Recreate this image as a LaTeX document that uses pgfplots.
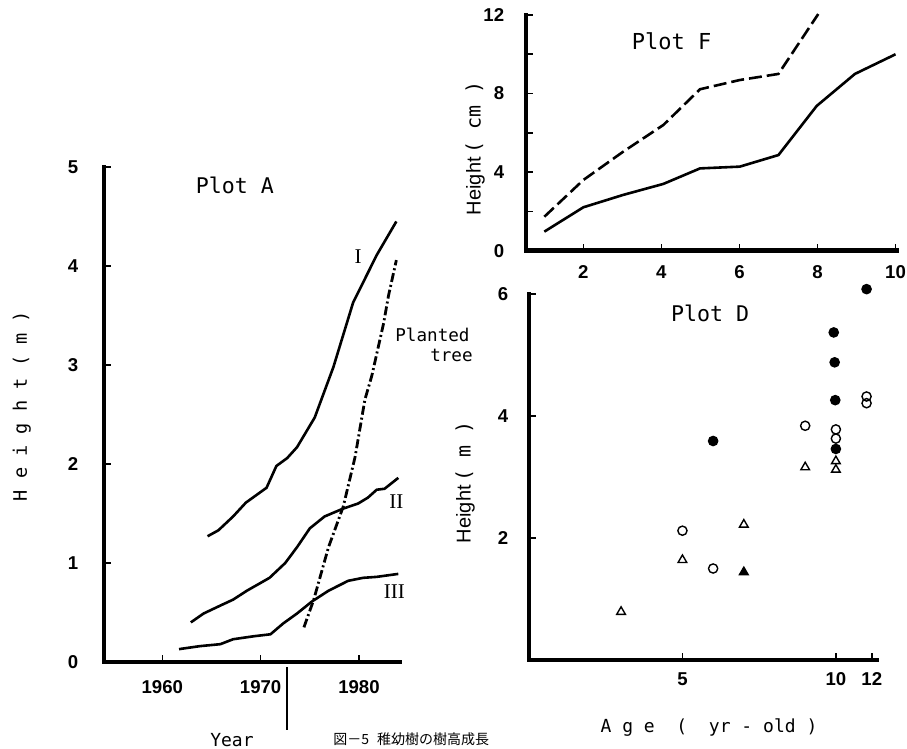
\documentclass[border=0pt]{standalone}
\usepackage{fontspec}
\setmainfont{Liberation Sans}
\newfontfamily\mono{DejaVu Sans Mono}
\newfontfamily\romn{Liberation Serif}
\newfontfamily\cjk{Noto Sans CJK JP}
\usepackage{pgfplots}
\pgfplotsset{compat=1.18}

% 1 px of the reference = 0.5pt
\pgfplotsset{
  panel/.style={
    scale only axis,
    anchor=south west,
    axis lines=left,
    axis line style={-, line width=2.2pt, line cap=rect},
    tick align=inside,
    major tick length=3.5pt,
    every tick/.style={black, line width=0.8pt},
    tick label style={font=\fontsize{9.3}{11}\selectfont\bfseries},
    /pgf/number format/assume math mode=true,
    /pgf/number format/1000 sep={},
    clip=false,
  },
  curve/.style={black, line width=1.3pt, line join=round, no markers},
  dot/.style={black, only marks, mark size=2.3pt, mark options={line width=0.7pt}},
}
\newcommand{\monofs}[1]{\mono\fontsize{#1}{#1}\selectfont}

\begin{document}
\begin{tikzpicture}
\useasboundingbox (0,0) rectangle (453.5pt,-374.5pt);

% ---------------- Plot A ----------------
\begin{axis}[panel, at={(52pt,-331pt)}, width=148pt, height=247.5pt,
  xmin=1954.07, xmax=1984.17, ymin=0, ymax=5,
  xtick={1960,1970,1980}, ytick={0,1,2,3,4,5},
  yticklabel style={xshift=-9.4pt}, xticklabel style={yshift=-5.9pt}]
% I
\addplot[curve] coordinates {(1964.6,1.27) (1965.7,1.33) (1967.2,1.47) (1968.5,1.61)
  (1970.6,1.76) (1971.6,1.98) (1972.7,2.06) (1973.7,2.17) (1975.5,2.47) (1977.4,2.98)
  (1979.4,3.63) (1981.8,4.11) (1983.8,4.45)};
% II
\addplot[curve] coordinates {(1962.9,0.40) (1964.2,0.49) (1965.9,0.57) (1967.2,0.63)
  (1968.6,0.72) (1970.9,0.85) (1972.5,1.00) (1973.7,1.16) (1975.0,1.35) (1976.5,1.47)
  (1978.4,1.55) (1979.9,1.60) (1980.9,1.66) (1981.8,1.74) (1982.6,1.75) (1984.0,1.86)};
% III
\addplot[curve] coordinates {(1961.7,0.13) (1963.8,0.16) (1965.9,0.18) (1967.2,0.23)
  (1969.3,0.26) (1971.0,0.28) (1972.3,0.39) (1973.7,0.49) (1975.2,0.61) (1976.9,0.72)
  (1978.9,0.82) (1980.4,0.85) (1981.8,0.86) (1984.0,0.89)};
% planted tree
\addplot[curve, line width=1.4pt, dash pattern=on 4.5pt off 1.5pt on 1pt off 1.5pt]
  coordinates {(1974.4,0.35) (1975.4,0.63) (1976.9,1.16) (1978.4,1.57) (1979.6,2.07)
  (1980.6,2.65) (1981.3,2.89) (1982.5,3.42) (1983.0,3.70) (1983.8,4.06)};
\node[font=\monofs{10.8}] at (axis cs:1967.39,4.81) {Plot A};
\node[font=\romn\fontsize{10.5}{12}\selectfont] at (axis cs:1979.9,4.09) {I};
\node[font=\romn\fontsize{10.5}{12}\selectfont] at (axis cs:1983.8,1.62) {II};
\node[font=\romn\fontsize{10.5}{12}\selectfont] at (axis cs:1983.6,0.71) {III};
\node[anchor=west, inner sep=0, font=\monofs{8.8}] at (axis cs:1983.66,3.30) {Planted};
\node[anchor=east, inner sep=0, font=\monofs{8.8}] at (axis cs:1991.6,3.10) {tree};
\end{axis}

% ---------------- Plot F ----------------
\begin{axis}[panel, at={(263pt,-125.35pt)}, width=185.35pt, height=117.85pt,
  xmin=0.53, xmax=10.03, ymin=0, ymax=12,
  xtick={2,4,6,8,10}, ytick={0,2,4,6,8,10,12}, yticklabels={0,,4,,8,,12},
  yticklabel style={xshift=-7.4pt}, xticklabel style={yshift=-4.1pt}]
\addplot[curve] coordinates {(1,0.97) (2,2.21) (3.02,2.84) (4.05,3.40) (4.99,4.19)
  (6.01,4.28) (7.0,4.87) (7.98,7.37) (8.96,9.00) (10.0,10.0)};
\addplot[curve, dash pattern=on 6.5pt off 2.5pt] coordinates {(1,1.73) (2,3.60)
  (3.02,5.04) (4.05,6.40) (4.99,8.22) (6.01,8.69) (7.0,9.0) (8.02,12.05)};
\node[font=\monofs{11}] at (axis cs:4.26,10.65) {Plot F};
\end{axis}

% ---------------- Plot D ----------------
\begin{axis}[panel, at={(264.5pt,-330pt)}, width=173.85pt, height=183pt,
  xmin=0, xmax=11.33, ymin=0, ymax=6,
  xtick={5,10,11.17}, xticklabels={5,10,12}, ytick={2,4,6},
  yticklabel style={xshift=-6.9pt}, xticklabel style={yshift=-2.7pt}]
% filled circles
\addplot[dot, mark=*] coordinates {(11,6.08) (9.93,5.37) (9.96,4.88) (9.98,4.26)
  (10,3.46) (6,3.59)};
% open circles
\addplot[dot, mark=o] coordinates {(5,2.12) (6,1.50) (9,3.84) (10,3.78) (10,3.63)
  (11,4.32) (11,4.21)};
% open triangles
\addplot[dot, mark=triangle, mark size=2.5pt] coordinates {(3,0.79) (5,1.64) (7,2.22)
  (9,3.16) (10,3.26) (10,3.12)};
% filled triangle
\addplot[dot, mark=triangle*, mark size=2.5pt] coordinates {(7,1.44)};
\node[font=\monofs{10.8}] at (axis cs:5.9,5.69) {Plot D};
\end{axis}

% outer labels
\node[rotate=90, font=\monofs{9.3}] at (10.85pt,-203pt) {H~e~i~g~h~t~(~m~)};
\node[font=\monofs{9}] at (116pt,-370pt) {Year};
\draw[line width=1pt] (143.5pt,-333.5pt) -- (143.5pt,-365pt);
\node[rotate=90, inner sep=0] at (237.5pt,-74pt)
  {\fontsize{10}{12}\selectfont Height\hspace{2pt}{\monofs{10}(~cm~)}};
\node[rotate=90, inner sep=0] at (232.5pt,-241pt)
  {\fontsize{10}{12}\selectfont Height\hspace{2pt}{\monofs{10}(~m~)}};
\node[font=\monofs{9}] at (354.5pt,-364pt) {A~g~e~~(~~yr~-~old~)};
\node[anchor=base west, inner sep=0, font=\cjk\fontsize{7}{8}\selectfont]
  at (166.5pt,-372pt) {図－5\hspace{4pt}稚幼樹の樹高成長};
\end{tikzpicture}
\end{document}
